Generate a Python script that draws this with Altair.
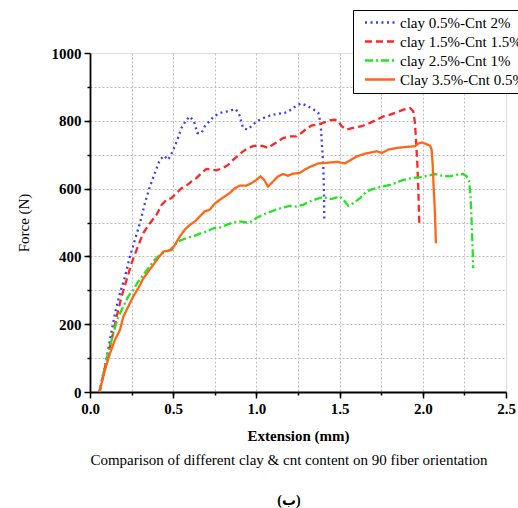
import altair as alt
import pandas as pd

series_names = ["clay 0.5%-Cnt 2%", "clay 1.5%-Cnt 1.5%", "clay 2.5%-Cnt 1%", "Clay 3.5%-Cnt 0.5%"]
series_colors = ["#3d3dff", "#ff2626", "#22e622", "#ff6618"]
series_dashes = [[2, 3.5], [7, 4], [8, 3, 2, 3], [1, 0]]

blue_x = [0.056, 0.09, 0.12, 0.15, 0.18, 0.21, 0.24, 0.27, 0.30, 0.33, 0.36, 0.39, 0.42, 0.445,
          0.47, 0.497, 0.525, 0.55, 0.577, 0.60, 0.625, 0.645, 0.67, 0.69, 0.717, 0.741, 0.771,
          0.80, 0.83, 0.875, 0.897, 0.92, 0.945, 0.97, 1.0, 1.04, 1.08, 1.12, 1.17, 1.21, 1.24,
          1.27, 1.30, 1.34, 1.372, 1.386, 1.392, 1.402, 1.406, 1.408]
blue_y = [0, 74, 154, 232, 291, 340, 400, 449, 498, 557, 606, 646, 685, 697,
          685, 710, 744, 779, 801, 813, 798, 764, 764, 784, 798, 811, 821,
          826, 828, 835, 818, 779, 774, 784, 798, 808, 815, 820, 823, 833, 845,
          851, 845, 835, 823, 794, 744, 666, 597, 510]

red_x = [0.056, 0.10, 0.13, 0.16, 0.19, 0.22, 0.25, 0.28, 0.32, 0.36, 0.40, 0.43, 0.46, 0.49,
         0.52, 0.55, 0.58, 0.61, 0.64, 0.67, 0.70, 0.73, 0.76, 0.80, 0.83, 0.86, 0.89, 0.92,
         0.95, 0.98, 1.01, 1.04, 1.07, 1.10, 1.13, 1.16, 1.20, 1.24, 1.27, 1.30, 1.33, 1.37,
         1.40, 1.44, 1.47, 1.49, 1.512, 1.543, 1.582, 1.633, 1.683, 1.723, 1.763, 1.803,
         1.843, 1.883, 1.923, 1.943, 1.953, 1.959, 1.967, 1.973, 1.979]
red_y = [0, 95, 154, 222, 282, 331, 380, 419, 469, 498, 523, 552, 567, 572,
         587, 601, 609, 621, 631, 646, 658, 656, 654, 661, 670, 685, 697, 710,
         720, 725, 728, 725, 720, 730, 739, 749, 754, 754, 764, 776, 786, 789,
         794, 801, 803, 801, 784, 774, 779, 784, 794, 803, 813, 818,
         825, 833, 838, 828, 794, 744, 675, 597, 498]

green_x = [0.06, 0.08, 0.11, 0.14, 0.17, 0.20, 0.23, 0.26, 0.29, 0.32, 0.35, 0.38, 0.41, 0.44,
           0.48, 0.51, 0.54, 0.58, 0.62, 0.66, 0.70, 0.74, 0.78, 0.82, 0.86, 0.90, 0.94, 0.97,
           1.0, 1.04, 1.08, 1.12, 1.16, 1.20, 1.24, 1.28, 1.32, 1.36, 1.40, 1.45, 1.50, 1.532,
           1.552, 1.582, 1.623, 1.663, 1.703, 1.753, 1.803, 1.843, 1.883, 1.933, 1.983, 2.033,
           2.073, 2.113, 2.163, 2.203, 2.243, 2.263, 2.279, 2.287, 2.293, 2.299, 2.303]
green_y = [0, 55, 114, 173, 222, 252, 282, 301, 326, 345, 365, 385, 400, 410,
           419, 434, 446, 454, 459, 467, 473, 483, 485, 493, 500, 503, 500, 503,
           513, 523, 531, 538, 544, 549, 547, 552, 562, 569, 575, 569, 577, 562,
           549, 557, 572, 592, 599, 606, 611, 618, 626, 631, 634, 638,
           643, 638, 636, 641, 643, 636, 621, 577, 508, 429, 365]

orange_x = [0.056, 0.09, 0.12, 0.15, 0.18, 0.20, 0.23, 0.26, 0.29, 0.32, 0.35, 0.38, 0.41, 0.44,
            0.47, 0.49, 0.51, 0.54, 0.57, 0.60, 0.63, 0.66, 0.69, 0.72, 0.75, 0.78, 0.81, 0.84,
            0.87, 0.90, 0.94, 0.97, 1.0, 1.025, 1.046, 1.07, 1.10, 1.13, 1.16, 1.19, 1.22, 1.26,
            1.29, 1.322, 1.37, 1.42, 1.49, 1.532, 1.562, 1.603, 1.653, 1.693, 1.723, 1.753,
            1.793, 1.843, 1.903, 1.953, 1.973, 1.993, 2.013, 2.043, 2.053, 2.059, 2.065, 2.073,
            2.079]
orange_y = [0, 65, 114, 154, 183, 222, 252, 282, 306, 335, 355, 375, 395, 414,
            417, 419, 434, 459, 479, 493, 503, 518, 533, 538, 556, 567, 577, 587,
            601, 609, 609, 616, 626, 636, 626, 606, 621, 636, 643, 638, 644, 646,
            656, 664, 674, 676, 679, 674, 683, 695, 703, 707, 710, 705,
            715, 720, 723, 725, 733, 736, 733, 727, 715, 675, 606, 528,
            439]

x_major = [0, 0.5, 1.0, 1.5, 2.0, 2.5]
x_minor = [0.25, 0.5, 0.75, 1.0, 1.25, 1.5, 1.75, 2.0, 2.25]
y_major = [0, 200, 400, 600, 800, 1000]
y_minor = [100, 200, 300, 400, 500, 600, 700, 800, 900]

rows = []
for name, xs, ys in zip(series_names, [blue_x, red_x, green_x, orange_x],
                        [blue_y, red_y, green_y, orange_y]):
    for i, (xv, yv) in enumerate(zip(xs, ys)):
        rows.append({"series": name, "ext": xv, "force": yv, "idx": i})
df = pd.DataFrame(rows)

SERIF = "Liberation Serif"
xscale = alt.Scale(domain=[0, 2.5], nice=False, zero=False)
yscale = alt.Scale(domain=[0, 1000], nice=False)

legend = alt.Legend(
    title=None, orient="none", legendX=263, legendY=-43,
    strokeColor="black", fillColor="white", padding=5,
    labelFont=SERIF, labelFontSize=15, labelColor="black", labelLimit=300,
    symbolType="M-3,0L3,0", symbolSize=100, symbolStrokeWidth=2.5,
    symbolOffset=14.5, rowPadding=3, labelOffset=12.5,
)

grid_layer = alt.Chart(df).mark_point(opacity=0).encode(
    x=alt.X("ext:Q", scale=xscale, axis=alt.Axis(
        values=x_minor, orient="bottom", grid=True, gridDash=[2, 2], gridColor="#bdbdbd",
        gridWidth=1, labels=False, domain=False, title=None, ticks=True, tickSize=3,
        tickColor="black", tickWidth=1.5)),
    y=alt.Y("force:Q", scale=yscale, axis=alt.Axis(
        values=y_minor, orient="left", grid=True, gridDash=[2, 2], gridColor="#bdbdbd",
        gridWidth=1, labels=False, domain=False, title=None, ticks=True, tickSize=3,
        tickColor="black", tickWidth=1.5)),
)

lines = alt.Chart(df).mark_line(strokeWidth=2.3).encode(
    x=alt.X("ext:Q", scale=xscale, axis=alt.Axis(
        values=x_major, orient="bottom", grid=False, format=".1f", title="Extension (mm)",
        labelFont=SERIF, labelFontSize=15, labelFontWeight="bold", labelColor="black",
        titleFont=SERIF, titleFontSize=15, titleFontWeight="bold", titleColor="black",
        tickSize=6, tickColor="black", tickWidth=1.5, domainColor="black", domainWidth=1.8,
        labelPadding=3, titlePadding=12, labelFlush=False)),
    y=alt.Y("force:Q", scale=yscale, axis=alt.Axis(
        values=y_major, orient="left", grid=False, format="d", title="Force (N)",
        labelFont=SERIF, labelFontSize=15, labelFontWeight="bold", labelColor="black",
        titleFont=SERIF, titleFontSize=15, titleFontWeight="normal", titleColor="black",
        tickSize=6, tickColor="black", tickWidth=1.5, domainColor="black", domainWidth=1.8,
        labelPadding=3, titlePadding=20, labelFlush=False)),
    color=alt.Color("series:N", scale=alt.Scale(domain=series_names, range=series_colors),
                    legend=legend),
    strokeDash=alt.StrokeDash("series:N", scale=alt.Scale(domain=series_names, range=series_dashes),
                              legend=legend),
    order="idx:Q",
)

chart = alt.layer(grid_layer, lines).resolve_axis(x="independent", y="independent").properties(
    width=416, height=339,
    autosize=alt.AutoSizeParams(type="none"),
    padding={"left": 90, "top": 53, "right": 12, "bottom": 116},
    title=alt.TitleParams(
        text="Comparison of different clay & cnt content on 90 fiber orientation",
        subtitle="(ب)", orient="bottom", anchor="middle", dx=-9,
        font=SERIF, fontSize=15, fontWeight="normal", color="black", offset=10,
        subtitleFont="Liberation Serif, DejaVu Sans", subtitleFontSize=14,
        subtitleFontWeight="bold", subtitleColor="black", subtitlePadding=26,
    ),
).configure_view(stroke=None).configure(background="white")

chart.save("out.html", embed_options={"renderer": "svg", "actions": False})
